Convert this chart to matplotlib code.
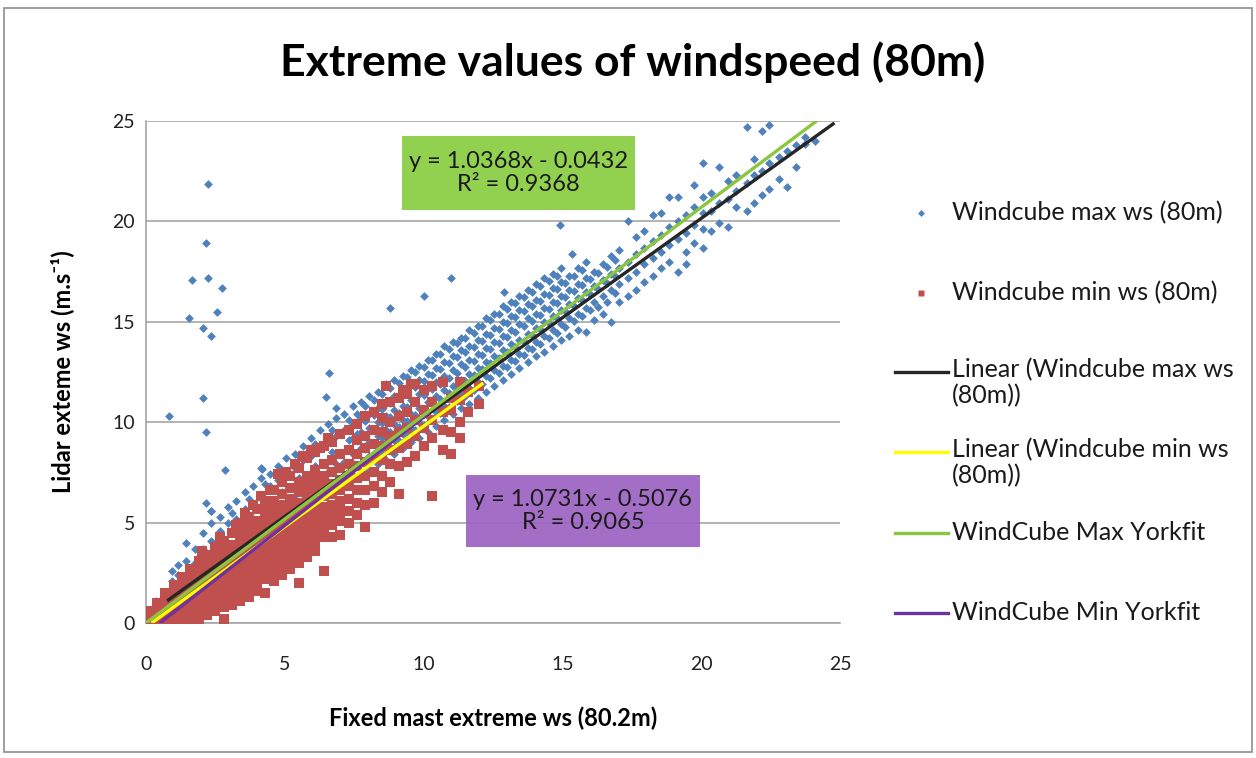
import numpy as np
import matplotlib.pyplot as plt
from matplotlib.lines import Line2D
from matplotlib.patches import Rectangle

plt.rcParams['font.family'] = ['Lato', 'DejaVu Sans']

max_cols = [
    (0.35, [0.4, 1.1]),
    (0.65, [0.8, 1.5]),
    (0.95, [1.2, 2.1, 2.6]),
    (1.15, [1.5, 2.4, 2.9]),
    (1.45, [1.9, 3.1, 4.0]),
    (1.75, [2.3, 3.0, 3.7]),
    (2.05, [2.7, 3.7, 4.5]),
    (2.35, [2.9, 4.1, 5.0, 5.6]),
    (2.65, [3.4, 4.6, 5.3]),
    (2.95, [3.7, 5.0, 5.8]),
    (3.25, [4.0, 5.2, 6.1]),
    (3.55, [4.4, 5.7, 6.5]),
    (3.85, [4.7, 5.9, 6.8]),
    (4.15, [4.9, 6.3, 7.2, 7.7]),
    (4.45, [5.4, 6.8, 7.4]),
    (4.75, [5.7, 7.1, 7.8]),
    (5.05, [6.0, 7.4, 8.2]),
    (5.35, [6.2, 7.7, 8.4]),
    (5.65, [6.7, 8.1, 8.8]),
    (5.95, [6.9, 8.3, 9.2]),
    (6.25, [7.2, 8.7, 9.6]),
    (6.55, [7.5, 9.0, 9.9]),
    (6.85, [7.9, 9.3, 10.2, 10.7]),
    (7.15, [8.0, 9.6, 10.4]),
    (7.45, [8.4, 9.2, 9.9, 10.8]),
    (7.75, [8.7, 9.5, 10.2, 11.0]),
    (8.05, [7.6, 8.3, 9.0, 9.7, 10.4, 11.3]),
    (8.35, [7.9, 8.6, 9.3, 10.0, 10.7, 11.5]),
    (8.65, [8.1, 8.8, 9.6, 10.3, 11.0, 11.9]),
    (8.95, [8.4, 9.1, 9.9, 10.6, 11.3, 12.1]),
    (9.25, [8.7, 9.4, 10.1, 10.8, 11.6, 12.3]),
    (9.55, [9.0, 9.7, 10.4, 11.1, 11.9, 12.6]),
    (9.85, [9.2, 10.0, 10.7, 11.4, 12.1, 12.8]),
    (10.15, [9.5, 10.3, 11.0, 11.7, 12.4, 13.1]),
    (10.45, [9.8, 10.5, 11.3, 12.0, 12.7, 13.4]),
    (10.75, [10.1, 10.8, 11.6, 12.3, 13.0, 13.8]),
    (11.05, [10.4, 11.1, 11.8, 12.6, 13.3, 14.0]),
    (11.35, [10.7, 11.4, 12.1, 12.9, 13.6, 14.2]),
    (11.65, [10.9, 11.7, 12.4, 13.1, 13.8, 14.6]),
    (11.95, [11.2, 12.0, 12.7, 13.4, 14.1, 14.8]),
    (12.25, [11.5, 12.3, 13.0, 13.7, 14.4, 15.2]),
    (12.55, [11.8, 12.6, 13.3, 14.0, 14.7, 15.4]),
    (12.85, [12.1, 12.8, 13.6, 14.3, 15.0, 15.8]),
    (13.15, [12.4, 13.1, 13.9, 14.6, 15.3, 16.0]),
    (13.45, [12.7, 13.4, 14.1, 14.9, 15.6, 16.3]),
    (13.75, [13.0, 13.7, 14.4, 15.2, 15.9, 16.6]),
    (14.05, [13.3, 14.0, 14.7, 15.4, 16.1, 16.9]),
    (14.35, [13.5, 14.3, 15.0, 15.7, 16.4, 17.2]),
    (14.65, [13.8, 14.6, 15.3, 16.0, 16.7, 17.4]),
    (14.95, [14.1, 14.9, 15.6, 16.3, 17.0, 17.7]),
    (15.25, [14.3, 15.2, 15.9, 16.6, 17.3]),
    (15.55, [14.6, 15.4, 16.2, 16.9, 17.7]),
    (15.85, [14.5, 15.7, 16.5, 17.2, 18.0]),
    (16.15, [15.1, 16.0, 16.8, 17.5]),
    (16.45, [15.4, 16.3, 17.1, 17.9]),
    (16.75, [15.0, 16.6, 17.4, 18.3]),
    (17.05, [16.0, 16.9, 17.7, 18.6]),
    (17.35, [16.3, 17.2, 18.0, 20.0]),
    (17.65, [16.6, 17.5, 18.4, 19.2]),
    (17.95, [17.0, 17.9, 18.7, 19.5]),
    (18.25, [17.3, 18.2, 19.0, 20.3]),
    (18.55, [17.7, 18.5, 19.3, 20.4]),
    (18.85, [18.0, 18.8, 19.7, 21.2]),
    (19.15, [17.5, 19.1, 20.0, 21.2]),
    (19.45, [17.9, 18.5, 19.4, 20.3]),
    (19.75, [18.9, 19.8, 20.7, 21.8]),
    (20.05, [18.7, 19.6, 20.4, 21.2, 22.9]),
    (20.35, [19.5, 20.5, 21.4]),
    (20.65, [19.9, 20.9, 22.7]),
    (20.95, [19.7, 21.1, 22.0]),
    (21.25, [20.7, 21.5, 22.3]),
    (21.65, [20.5, 21.9, 24.7]),
    (21.90, [20.9, 22.3, 23.1]),
    (22.20, [21.3, 22.5, 24.5]),
    (22.45, [21.6, 22.9, 24.8]),
    (22.80, [22.1, 23.2]),
    (23.10, [21.7, 23.5]),
    (23.40, [22.7, 23.8]),
    (23.75, [23.85, 24.2]),
    (24.10, [24.0]),
]
# second, staggered set of max-ws points where the cloud is dense
max_cols_b = [
    (3.10, [4.6, 5.5]),
    (3.70, [5.1, 6.2]),
    (4.30, [5.9, 6.9]),
    (4.90, [6.5, 7.6]),
    (5.50, [7.2, 8.3]),
    (6.10, [7.8, 8.9]),
    (6.70, [8.5, 9.6]),
    (7.30, [9.1, 10.1]),
    (7.60, [9.4, 10.4]),
    (7.90, [8.0, 8.65, 9.35, 10.05, 10.8]),
    (8.20, [8.2, 8.95, 9.65, 10.35, 11.1]),
    (8.50, [8.45, 9.2, 9.95, 10.65, 11.4]),
    (8.80, [8.75, 9.5, 10.25, 10.95, 11.7]),
    (9.10, [9.05, 9.75, 10.45, 11.2, 11.95]),
    (9.40, [9.35, 10.05, 10.75, 11.5, 12.25]),
    (9.70, [9.6, 10.35, 11.05, 11.75, 12.5]),
    (10.00, [9.85, 10.65, 11.35, 12.05, 12.75]),
    (10.30, [10.15, 10.9, 11.65, 12.35, 13.1]),
    (10.60, [10.45, 11.15, 11.9, 12.65, 13.4]),
    (10.90, [10.75, 11.45, 12.2, 12.95, 13.65]),
    (11.20, [11.05, 11.75, 12.45, 13.25, 13.95]),
    (11.50, [11.3, 12.05, 12.75, 13.5, 14.2]),
    (11.80, [11.6, 12.35, 13.05, 13.75, 14.45]),
    (12.10, [11.9, 12.65, 13.35, 14.05, 14.8]),
    (12.40, [12.2, 12.95, 13.65, 14.35, 15.1]),
    (12.70, [12.45, 13.2, 13.95, 14.65, 15.4]),
    (13.00, [12.75, 13.5, 14.25, 14.95, 15.65]),
    (13.30, [13.05, 13.75, 14.5, 15.25, 15.95]),
    (13.60, [13.35, 14.05, 14.8, 15.55, 16.25]),
    (13.90, [13.65, 14.35, 15.05, 15.8, 16.5]),
    (14.20, [13.9, 14.65, 15.35, 16.05, 16.8]),
    (14.50, [14.2, 14.95, 15.65, 16.35, 17.05]),
    (14.80, [14.45, 15.2, 15.95, 16.65, 17.3]),
    (15.10, [14.75, 15.55, 16.25, 16.95]),
    (15.40, [15.05, 15.8, 16.55, 17.3]),
    (15.70, [15.3, 16.1, 16.85, 17.6]),
    (16.00, [15.6, 16.4, 17.15]),
    (16.30, [15.75, 16.65, 17.45]),
    (16.60, [16.0, 16.95, 17.75]),
    (16.90, [16.45, 17.3, 18.1]),
]
# scattered max-ws outliers
max_out_x = [2.23, 2.15, 1.65, 2.24, 2.74, 2.55, 1.55, 2.05, 2.34, 8.79, 10.0, 11.0,
             0.83, 2.05, 2.16, 6.6, 6.48, 2.85, 4.17, 2.16, 2.34, 12.9, 15.35, 14.9]
max_out_y = [21.86, 18.9, 17.1, 17.2, 16.7, 15.5, 15.2, 14.7, 14.3, 15.7, 16.3, 17.2,
             10.3, 11.2, 9.5, 12.45, 11.25, 7.6, 7.67, 6.0, 5.6, 16.5, 18.4, 19.8]

# Windcube min ws (80m)
min_cols = [
    (0.10, [0.0, 0.3, 0.6]),
    (0.40, [0.0, 0.4, 0.8, 1.0]),
    (0.70, [0.0, 0.4, 0.8, 1.2, 1.5]),
    (1.00, [0.0, 0.4, 0.9, 1.4, 1.9]),
    (1.30, [0.0, 0.5, 1.0, 1.5, 1.9, 2.3]),
    (1.60, [0.05, 0.5, 1.0, 1.5, 2.0, 2.4, 2.7]),
    (1.90, [0.2, 0.7, 1.2, 1.7, 2.2, 2.7, 3.1]),
    (2.20, [0.4, 0.9, 1.4, 1.9, 2.4, 2.9, 3.4]),
    (2.50, [0.6, 1.1, 1.6, 2.1, 2.6, 3.1, 3.5, 3.8]),
    (2.80, [0.2, 0.8, 1.3, 1.8, 2.3, 2.8, 3.3, 3.7, 4.1]),
    (3.10, [0.9, 1.4, 1.9, 2.4, 2.9, 3.4, 3.9, 4.5]),
    (3.40, [1.1, 1.6, 2.1, 2.6, 3.1, 3.6, 4.1, 4.6, 5.0]),
    (3.70, [1.3, 1.8, 2.3, 2.8, 3.3, 3.8, 4.3, 4.8, 5.3]),
    (4.00, [1.6, 2.1, 2.6, 3.1, 3.6, 4.1, 4.6, 5.1, 5.7]),
    (4.30, [1.5, 2.2, 2.7, 3.2, 3.7, 4.2, 4.7, 5.2, 5.7, 6.1]),
    (4.60, [2.1, 2.6, 3.1, 3.6, 4.1, 4.6, 5.1, 5.6, 6.1, 6.6]),
    (4.90, [2.4, 2.9, 3.4, 3.9, 4.4, 4.9, 5.4, 5.9, 6.4, 7.0]),
    (5.20, [2.7, 3.2, 3.7, 4.2, 4.7, 5.2, 5.7, 6.2, 6.7, 7.3]),
    (5.50, [2.0, 3.0, 3.5, 4.0, 4.5, 5.0, 5.5, 6.0, 6.5, 7.0, 7.7]),
    (5.80, [3.3, 3.8, 4.3, 4.8, 5.3, 5.8, 6.3, 6.8, 7.3, 8.2]),
    (6.10, [3.6, 4.1, 4.6, 5.1, 5.6, 6.1, 6.6, 7.1, 7.6, 8.5]),
    (6.40, [2.6, 4.3, 4.8, 5.3, 5.8, 6.3, 6.8, 7.3, 7.9, 8.8]),
    (6.70, [4.3, 4.9, 5.4, 5.9, 6.4, 6.9, 7.5, 8.1, 9.0]),
    (7.00, [4.4, 5.1, 5.6, 6.1, 6.6, 7.1, 7.7, 8.4, 9.4]),
    (7.30, [5.0, 5.6, 6.2, 6.8, 7.3, 7.9, 8.6, 9.6]),
    (7.60, [5.4, 6.0, 6.6, 7.2, 7.8, 8.4, 9.1, 9.9]),
    (7.90, [4.8, 5.9, 6.6, 7.3, 8.0, 8.7, 9.3, 10.3]),
    (8.20, [6.0, 6.8, 7.5, 8.2, 8.9, 9.6, 10.5]),
    (8.50, [6.5, 7.3, 8.1, 8.8, 9.5, 10.2, 10.9]),
    (8.80, [7.0, 7.9, 8.6, 9.3, 10.0, 11.0]),
    (9.10, [6.4, 7.8, 8.7, 9.5, 10.3, 11.2]),
    (9.40, [8.0, 8.9, 9.7, 10.5, 11.4]),
    (9.70, [8.3, 9.3, 10.1, 11.0, 11.9]),
    (10.00, [8.8, 9.7, 10.6, 11.6]),
    (10.30, [6.3, 9.2, 10.1, 11.0, 11.8]),
    (10.70, [8.6, 9.6, 10.5, 12.0]),
    (11.00, [8.4, 9.5, 10.6, 11.2]),
    (11.30, [9.2, 10.0, 11.1, 12.0]),
    (11.60, [10.5, 11.5]),
    (12.00, [10.9, 11.8]),
]
# min-ws squares sitting above the main red band
min_cols_b = [
    (2.00, [3.6]),
    (2.65, [4.3]),
    (3.25, [4.9]),
    (3.55, [5.5]),
    (3.85, [5.9]),
    (4.15, [6.3]),
    (4.45, [6.6]),
    (4.75, [7.4]),
    (5.05, [7.5]),
    (5.35, [7.9]),
    (5.65, [8.3]),
    (5.95, [8.6]),
    (6.25, [8.7]),
    (6.55, [9.2]),
    (8.65, [11.8]),
    (9.25, [11.6]),
    (9.55, [11.9]),
]

# trend lines as drawn: slope, intercept, x from, x to
fit_max_lin = (0.99, 0.35, 0.76, 24.8)
fit_min_lin = (1.0, -0.2, 0.2, 12.15)
fit_max_york = (1.035, 0.0, 0.0, 24.3)
fit_min_york = (1.08, -0.54, 0.5, 10.2)

eq_max = "y = 1.0368x - 0.0432\nR² = 0.9368"
eq_min = "y = 1.0731x - 0.5076\nR² = 0.9065"

all_max = max_cols + max_cols_b
max_x = [x for x, ys in all_max for _ in ys] + max_out_x
max_y = [y for _, ys in all_max for y in ys] + max_out_y
all_min = min_cols + min_cols_b
min_x = [x for x, ys in all_min for _ in ys]
min_y = [y for _, ys in all_min for y in ys]

W, H = 1256, 758
fig = plt.figure(figsize=(W / 100, H / 100), dpi=100)
ax = fig.add_axes([146 / W, 1 - 623 / H, (840 - 146) / W, (623 - 121) / H])

ax.scatter(max_x, max_y, marker='D', s=20, c='#4F81BD', linewidths=0, zorder=3)
ax.scatter(min_x, min_y, marker='s', s=55, c='#C0504D', linewidths=0, zorder=4)


def fit_line(fit, color, z):
    k, b, x0, x1 = fit
    xs = np.array([x0, x1])
    ax.plot(xs, k * xs + b, color=color, lw=2.4, zorder=z, solid_capstyle='butt')


fit_line(fit_max_lin, '#262626', 5)
fit_line(fit_min_lin, '#FFFF00', 6)
fit_line(fit_min_york, '#7030A0', 6.5)
fit_line(fit_max_york, '#8CC63F', 7)

ax.set_xlim(0, 25)
ax.set_ylim(0, 25)
ax.set_xticks(range(0, 26, 5))
ax.set_yticks(range(0, 26, 5))
ax.yaxis.grid(True, color='#A6A6A6', lw=1.2, zorder=0)
ax.set_axisbelow(True)
for s in ['top', 'right']:
    ax.spines[s].set_visible(False)
ax.spines['left'].set_color('#A6A6A6')
ax.spines['bottom'].set_color('#A6A6A6')
ax.spines['left'].set_linewidth(1.2)
ax.spines['bottom'].set_linewidth(1.2)
ax.tick_params(length=0, labelsize=14, colors='#222222')
ax.tick_params(axis='x', pad=24)
ax.tick_params(axis='y', pad=8)

# equation boxes
ax.add_patch(Rectangle((9.22, 20.57), 8.4, 3.68, facecolor='#92D050',
                       edgecolor='none', zorder=8))
ax.text(13.42, 22.4, eq_max, ha='center', va='center', fontsize=17,
        linespacing=1.1, color='#1a1a1a', zorder=9)
ax.add_patch(Rectangle((11.53, 3.78), 8.43, 3.59, facecolor='#9A62C2',
                       edgecolor='none', alpha=0.92, zorder=8))
ax.text(15.74, 5.58, eq_min, ha='center', va='center', fontsize=17,
        linespacing=1.1, color='#1a1a1a', zorder=9)

fig.text(633 / W, 1 - 62 / H, "Extreme values of windspeed (80m)", ha='center',
         va='center', fontsize=32, fontweight='bold')
fig.text(493 / W, 1 - 718 / H, "Fixed mast extreme ws (80.2m)", ha='center',
         va='center', fontsize=17, fontweight='bold')
fig.text(62 / W, 1 - 372 / H, "Lidar exteme ws (m.s⁻¹)", ha='center', va='center',
         rotation=90, fontsize=17, fontweight='bold')

# legend drawn by hand to keep the spacing of the original
leg_items = [
    ('marker', 'D', '#4F81BD', "Windcube max ws (80m)", 213),
    ('marker', 's', '#C0504D', "Windcube min ws (80m)", 293),
    ('line', None, '#262626', "Linear (Windcube max ws\n(80m))", 372),
    ('line', None, '#FFFF00', "Linear (Windcube min ws\n(80m))", 452),
    ('line', None, '#8CC63F', "WindCube Max Yorkfit", 533),
    ('line', None, '#7030A0', "WindCube Min Yorkfit", 613),
]
for kind, mk, col, label, yp in leg_items:
    fy = 1 - yp / H
    if kind == 'marker':
        fig.add_artist(Line2D([921 / W], [fy], marker=mk, color=col, ls='none',
                              markersize=3.5 if mk == 'D' else 4, mec='none'))
    else:
        fig.add_artist(Line2D([895 / W, 948 / W], [fy, fy], color=col, lw=2.4))
    two = '\n' in label
    fig.text(952 / W, fy + (14 / H if two else 0), label, ha='left',
             va='top' if two else 'center', fontsize=18, linespacing=1.15,
             color='#1a1a1a')

fig.add_artist(Rectangle((4 / W, 1 - 752 / H), 1248 / W, 744 / H, transform=fig.transFigure,
                         fill=False, edgecolor='#8C8C8C', lw=1.2))

fig.savefig('out.png', dpi=100)
